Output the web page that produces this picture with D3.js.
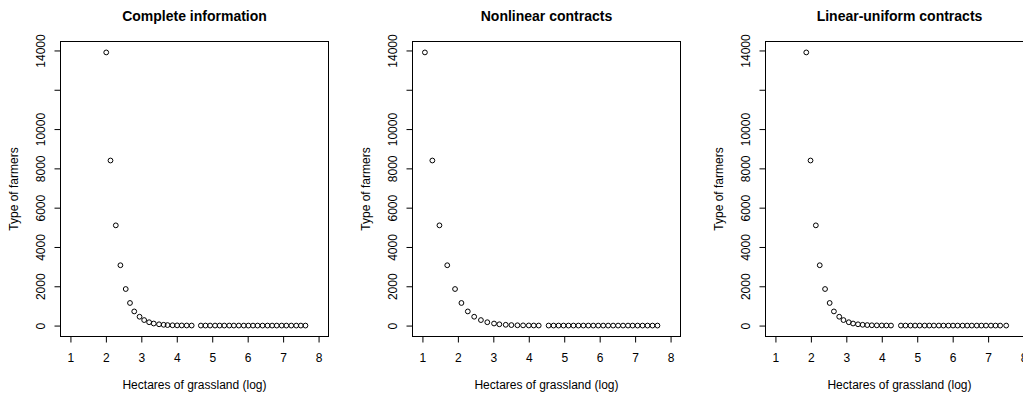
<!DOCTYPE html>
<html>
<head>
<meta charset="utf-8">
<script src="https://cdn.jsdelivr.net/npm/d3@7/dist/d3.min.js"></script>
<style>
  html, body { margin: 0; padding: 0; background: #fff; }
  svg { display: block; }
  text { font-family: "Liberation Sans", Arial, sans-serif; fill: #000; }
</style>
</head>
<body>
<svg id="chart" width="1023" height="398"></svg>
<script>
// Number of farmers in each type (shared by the three panels)
const farmerTypes = [
  13900, 8400, 5100, 3070, 1860, 1150, 720, 450, 280, 170, 105, 65, 40, 25, 15, 10, 6, 4, 2,
  1, 1, 1, 1, 1, 1, 1, 1, 1, 0, 0, 0, 0, 0, 0, 0, 0, 0, 0, 0, 0, 0, 0
];

// Hectares of grassland (log) for each farmer type, per information setting
const hectaresComplete = [
  2.01, 2.13, 2.28, 2.41, 2.56, 2.68, 2.80, 2.95, 3.08, 3.22, 3.35, 3.50, 3.63, 3.74, 3.88, 4.01, 4.14, 4.28, 4.42,
  4.68, 4.81, 4.94, 5.08, 5.21, 5.34, 5.48, 5.61, 5.75, 5.89, 6.02, 6.15, 6.28, 6.42, 6.56, 6.69, 6.82, 6.96, 7.09, 7.23, 7.37, 7.50, 7.63
];
const hectaresNonlinear = [
  1.07, 1.28, 1.48, 1.70, 1.92, 2.10, 2.28, 2.46, 2.65, 2.83, 3.02, 3.17, 3.35, 3.51, 3.68, 3.84, 4.00, 4.14, 4.28,
  4.56, 4.70, 4.84, 4.98, 5.12, 5.26, 5.40, 5.54, 5.68, 5.82, 5.96, 6.10, 6.24, 6.38, 6.52, 6.66, 6.80, 6.93, 7.07, 7.21, 7.35, 7.49, 7.63
];
const hectaresLinearUniform = [
  1.87, 1.99, 2.14, 2.25, 2.40, 2.53, 2.65, 2.80, 2.92, 3.07, 3.19, 3.33, 3.46, 3.59, 3.72, 3.86, 4.00, 4.13, 4.26,
  4.54, 4.67, 4.81, 4.94, 5.07, 5.21, 5.34, 5.47, 5.61, 5.74, 5.88, 6.01, 6.14, 6.28, 6.41, 6.54, 6.68, 6.81, 6.94, 7.08, 7.21, 7.34, 7.51
];

const panelTitles = ["Complete information", "Nonlinear contracts", "Linear-uniform contracts"];
const xTicks = [1, 2, 3, 4, 5, 6, 7, 8];
const yTicks = [0, 2000, 4000, 6000, 8000, 10000, 12000, 14000];
const yTickLabels = [0, 2000, 4000, 6000, 8000, 10000, 14000]; // 12000 is crowded out
const xLimits = [1, 8];
const xLabel = "Hectares of grassland (log)";
const yLabel = "Type of farmers";

const panels = [
  { title: panelTitles[0], xs: hectaresComplete, left: 60.5 },
  { title: panelTitles[1], xs: hectaresNonlinear, left: 412.5 },
  { title: panelTitles[2], xs: hectaresLinearUniform, left: 765.5 }
];

const svg = d3.select("#chart");
const boxTop = 41.5, boxBottom = 336.5, boxWidth = 268;

// R-style 4% padding around the axis limits
function padded(lo, hi) {
  const p = (hi - lo) * 0.04;
  return [lo - p, hi + p];
}

panels.forEach(panel => {
  const x = d3.scaleLinear().domain(padded(xLimits[0], xLimits[1]))
    .range([panel.left, panel.left + boxWidth]);
  const y = d3.scaleLinear().domain(padded(d3.min(farmerTypes), d3.max(farmerTypes)))
    .range([boxBottom, boxTop]);

  const g = svg.append("g");

  // plot frame
  g.append("rect")
    .attr("x", panel.left).attr("y", boxTop)
    .attr("width", boxWidth).attr("height", boxBottom - boxTop)
    .attr("fill", "none").attr("stroke", "#000").attr("stroke-width", 1);

  // x axis
  const xAxis = g.append("g")
    .attr("transform", `translate(0,${boxBottom})`)
    .call(d3.axisBottom(x).tickValues(xTicks).tickSize(6).tickSizeOuter(0).tickFormat(d3.format("d")));
  xAxis.select(".domain").remove();
  xAxis.selectAll(".tick line").attr("stroke", "#000").attr("stroke-width", 1);
  xAxis.selectAll(".tick text")
    .attr("y", 21).attr("dy", "0.35em")
    .style("font-size", "12px").attr("fill", "#000");

  // y axis with labels parallel to the axis
  const yAxis = g.append("g")
    .attr("transform", `translate(${panel.left},0)`)
    .call(d3.axisLeft(y).tickValues(yTicks).tickSize(6).tickSizeOuter(0)
      .tickFormat(d => yTickLabels.includes(d) ? String(d) : ""));
  yAxis.select(".domain").remove();
  yAxis.selectAll(".tick line").attr("stroke", "#000").attr("stroke-width", 1);
  yAxis.selectAll(".tick text")
    .attr("x", 0).attr("y", 0).attr("dy", "0.35em")
    .attr("text-anchor", "middle")
    .attr("transform", "translate(-19.5,0) rotate(-90)")
    .style("font-size", "12px").attr("fill", "#000");

  // points
  g.append("g").selectAll("circle")
    .data(farmerTypes.map((v, i) => ({ h: panel.xs[i], n: v })))
    .join("circle")
    .attr("cx", d => x(d.h)).attr("cy", d => y(d.n))
    .attr("r", 2.4)
    .attr("fill", "none").attr("stroke", "#000").attr("stroke-width", 1);

  const cx = panel.left + boxWidth / 2;
  const cy = (boxTop + boxBottom) / 2;

  // title
  g.append("text")
    .attr("x", cx).attr("y", 21)
    .attr("text-anchor", "middle")
    .style("font-size", "14px").style("font-weight", "bold")
    .text(panel.title);

  // axis titles
  g.append("text")
    .attr("x", cx).attr("y", 384.5).attr("dy", "0.35em")
    .attr("text-anchor", "middle")
    .style("font-size", "12px")
    .text(xLabel);

  g.append("text")
    .attr("transform", `translate(${panel.left - 47},${cy}) rotate(-90)`)
    .attr("dy", "0.35em")
    .attr("text-anchor", "middle")
    .style("font-size", "12px")
    .text(yLabel);
});
</script>
</body>
</html>
